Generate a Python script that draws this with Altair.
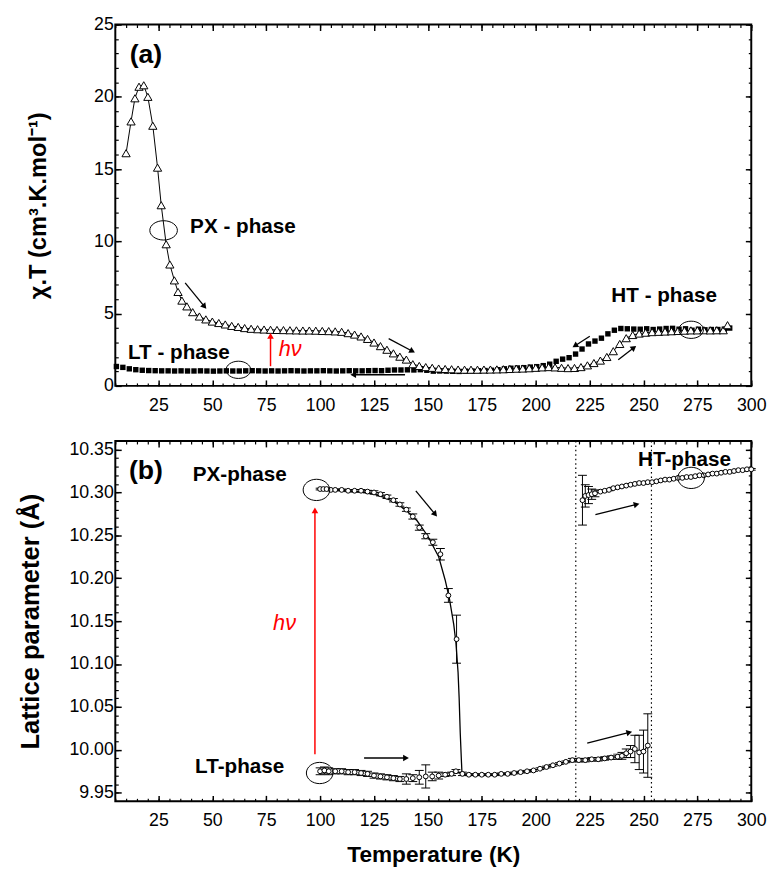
import math
import altair as alt
import pandas as pd

FONT = "Liberation Sans"
W, HA, HB = 646, 367, 366
X_DOM = [5, 300]
YA_DOM = [0, 25]
YB_DOM = [9.94, 10.36]

# ---------------- panel (a) data ----------------
tri_T = [10, 12.3, 14.1, 16, 18.2, 20.1, 22.4, 24.6, 26.3, 28.6, 30.3, 32.4, 34.1, 35.9, 38.2, 40.9,
         44, 47, 50, 53, 56, 59, 62, 65, 68, 71,
         74, 77, 80, 83, 86, 89, 92, 95, 98, 101,
         104, 107, 110, 113, 116, 119, 122, 125, 128, 131,
         134, 137, 140, 143, 146, 149, 152, 155, 158, 161,
         164, 167, 170, 173, 176, 179, 182, 185, 188, 191,
         194, 197, 200, 203, 206, 209, 212, 215, 218, 221,
         224, 227, 230, 233, 236, 239, 242, 245, 248, 251,
         254, 257, 260, 263, 266, 269, 272, 275, 278, 281,
         284, 287, 289]
tri_v = [16.1, 18.3, 19.9, 20.7, 20.8, 20.0, 18.0, 15.1, 12.5, 9.8, 8.4, 7.3, 6.5, 5.9, 5.5, 5.1,
         4.8, 4.6, 4.45, 4.35, 4.25, 4.15, 4.08, 4.0, 3.95, 3.92,
         3.9, 3.88, 3.87, 3.86, 3.85, 3.84, 3.83, 3.83, 3.82, 3.8,
         3.79, 3.77, 3.74, 3.65, 3.55, 3.42, 3.25, 3.0, 2.75, 2.5,
         2.25, 2.02, 1.82, 1.5, 1.38, 1.3, 1.25, 1.2, 1.17, 1.15,
         1.13, 1.12, 1.12, 1.12, 1.13, 1.13, 1.14, 1.15, 1.17, 1.19,
         1.2, 1.22, 1.25, 1.28, 1.3, 1.28, 1.25, 1.23, 1.24, 1.3,
         1.42, 1.58, 1.75, 2.0, 2.4, 2.9, 3.3, 3.52, 3.62, 3.68,
         3.72, 3.74, 3.76, 3.78, 3.8, 3.82, 3.84, 3.84, 3.85, 3.84,
         3.85, 3.85, 4.2]

sq_T = [5.5, 8.5, 11.5, 14.5, 17.5, 20.5, 23.5, 26.5,
        29.5, 32.5, 35.5, 38.5, 41.5, 44.5, 47.5, 50.5, 53.5, 56.5,
        59.5, 62.5, 65.5, 68.5, 71.5, 74.5, 77.5, 80.5, 83.5, 86.5,
        89.5, 92.5, 95.5, 98.5, 101.5, 104.5, 107.5, 110.5, 113.5, 116.5,
        119.5, 122.5, 125.5, 128.5,
        131.5, 134.5, 137.5, 140.5, 143.5, 146.5, 149.5, 152.5, 155.5, 158.5,
        161.5, 164.5, 167.5, 170.5, 173.5, 176.5, 179.5, 182.5, 185.5, 188.5,
        191.5, 194.5, 197.5, 200.5, 203.5, 206.5, 209.5, 212.5, 215.5, 218.5,
        221.5, 224.5, 227.5, 230.5, 233.5, 236.5, 239.5, 242.5, 245.5, 248.5,
        251.5, 254.5, 257.5, 260.5, 263.5, 266.5, 269.5, 272.5, 275.5, 278.5,
        281.5, 284.5, 287.5, 290]
sq_v = [1.34, 1.28, 1.18, 1.12, 1.08, 1.06, 1.05, 1.04,
        1.04, 1.03, 1.04, 1.03, 1.03, 1.04, 1.03, 1.02, 1.03, 1.04,
        1.03, 1.03, 1.04, 1.05, 1.04, 1.03, 1.04, 1.03, 1.04, 1.05,
        1.04, 1.03, 1.04, 1.04, 1.05, 1.04, 1.03, 1.04, 1.05, 1.04,
        1.04, 1.05, 1.06, 1.05,
        1.08, 1.1, 1.1, 1.11, 1.1, 1.12, 1.08, 1.02, 1.03, 1.02,
        1.01, 1.0, 1.02, 1.03, 1.05, 1.06, 1.08, 1.12, 1.18, 1.22,
        1.24, 1.26, 1.3, 1.33, 1.4, 1.5, 1.7, 1.85, 1.95, 2.2,
        2.55, 2.9, 3.1, 3.3, 3.6, 3.85, 3.97, 3.95, 3.93, 3.92,
        3.95, 3.9, 3.93, 3.97, 3.98, 3.92, 3.95, 3.85, 3.92, 3.88,
        3.9, 3.9, 3.92, 4.0]

# annotations (a)
a_txt = ["(a)", "PX - phase", "LT - phase", "HT - phase"]
a_txt_T = [19.2, 39.7, 10.9, 235.1]
a_txt_v = [22.9, 10.97, 2.25, 6.2]
a_txt_size = [27, 21, 21, 21]
a_txt_align = ["center", "left", "left", "left"]
a_hv_T, a_hv_v = [80.8], [2.52]
a_ell_T = [27.4, 62.1, 272.1]
a_ell_v = [10.76, 1.11, 3.88]
a_ell_w = [28, 25, 25]
a_arr_T1 = [37.4, 131.8, 225.1, 238.3, 139.4]
a_arr_v1 = [7.13, 3.27, 3.43, 1.8, 0.77]
a_arr_T2 = [46.1, 142.4, 218.6, 245.2, 115.8]
a_arr_v2 = [5.54, 2.43, 2.81, 2.6, 0.77]
a_red_T1, a_red_v1, a_red_T2, a_red_v2 = [77.0], [1.36], [77.0], [3.4]

# ---------------- panel (b) data ----------------
px_T = [100, 101.5, 103, 105, 107, 110, 113, 116, 119, 122, 125, 128, 131, 134, 137, 140,
        143, 146, 149, 152.3, 155.8, 159.5, 163.3]
px_v = [10.304, 10.304, 10.304, 10.303, 10.303, 10.303, 10.302, 10.302, 10.302, 10.301,
        10.300, 10.298, 10.295, 10.291, 10.286, 10.280, 10.272, 10.259, 10.249, 10.242,
        10.228, 10.180, 10.129]
px_e = [0.001, 0.001, 0.001, 0.001, 0.001, 0.001, 0.001, 0.0015, 0.0015, 0.0015, 0.002,
        0.002, 0.002, 0.002, 0.002, 0.002, 0.003, 0.003, 0.003, 0.0035, 0.0067, 0.008, 0.028]

fit_T = [100, 110, 120, 125, 130, 135, 140, 145, 150, 155, 158, 160, 162, 163, 164,
         164.5, 165, 165.5, 165.8]
fit_v = [10.304, 10.303, 10.3005, 10.298, 10.294, 10.288, 10.279, 10.267, 10.249, 10.225,
         10.198, 10.176, 10.146, 10.125, 10.09, 10.06, 10.02, 9.99, 9.973]

lt_T = [100, 102, 104, 107, 110, 113, 116, 119, 122, 125, 128, 131, 134, 137, 140, 143,
        146, 149, 152, 155, 158, 161, 163, 166, 169, 172, 175, 178, 181, 184, 187, 190,
        193, 196, 199, 202, 205, 208, 211, 214, 217, 220, 223, 226, 229, 232, 235, 238,
        240, 242, 244, 246, 248, 250, 252]
lt_v = [9.975, 9.976, 9.975, 9.975, 9.975, 9.974, 9.974, 9.973, 9.972, 9.970, 9.969, 9.968,
        9.967, 9.966, 9.966, 9.967, 9.968, 9.969, 9.969, 9.970, 9.971, 9.972, 9.975, 9.972,
        9.971, 9.971, 9.971, 9.971, 9.971, 9.972, 9.972, 9.973, 9.974, 9.975, 9.976, 9.978,
        9.980, 9.982, 9.984, 9.986, 9.988, 9.988, 9.988, 9.989, 9.989, 9.990, 9.991, 9.992,
        9.993, 9.996, 9.998, 10.001, 9.997, 9.998, 10.005]
lt_e = [0.004, 0.004, 0.004, 0.003, 0.003, 0.003, 0.003, 0.003, 0.003, 0.003, 0.003, 0.003,
        0.003, 0.003, 0.006, 0.004, 0.008, 0.0135, 0.005, 0.004, 0.002, 0.002, 0.002, 0.002,
        0.001, 0.001, 0.001, 0.001, 0.001, 0.001, 0.001, 0.001, 0.001, 0.001, 0.001, 0.001,
        0.001, 0.001, 0.001, 0.001, 0.002, 0.002, 0.002, 0.002, 0.002, 0.002, 0.002, 0.003,
        0.004, 0.005, 0.007, 0.016, 0.02, 0.025, 0.037]

ht_T = [221.7, 223, 224.5, 226, 227.5, 230, 232, 234, 236, 238, 240, 242, 244, 246, 248,
        250, 252, 254, 256, 258, 260, 262, 264, 266, 268, 270, 272, 274, 276, 278, 280,
        282, 284, 286, 288, 290, 292, 294, 296, 298, 300]
ht_v = [10.291, 10.296, 10.297, 10.298, 10.299, 10.301, 10.302, 10.303, 10.305, 10.306,
        10.307, 10.308, 10.309, 10.310, 10.311, 10.311, 10.312, 10.312, 10.313, 10.314,
        10.315, 10.315, 10.316, 10.317, 10.317, 10.318, 10.318, 10.319, 10.320, 10.320,
        10.321, 10.322, 10.322, 10.323, 10.324, 10.324, 10.325, 10.326, 10.326, 10.327,
        10.327]
ht_e = [0.029, 0.013, 0.01, 0.006, 0.004] + [0.001] * 36

b_vlines = [218.6, 253.7]
b_txt = ["(b)", "PX-phase", "LT-phase", "HT-phase"]
b_txt_T = [19.2, 40.9, 42.0, 247.5]
b_txt_v = [10.325, 10.32, 9.98, 10.338]
b_txt_size = [27, 21, 21, 21]
b_txt_align = ["center", "left", "left", "left"]
b_hv_T, b_hv_v = [83.5], [10.148]
b_ell_T = [98.3, 99.8, 272.1]
b_ell_v = [10.303, 9.973, 10.317]
b_ell_w = [27, 27, 27]
b_arr_T1 = [144.4, 120.4, 223.9, 227.7]
b_arr_v1 = [10.3018, 9.9905, 10.0077, 10.2743]
b_arr_T2 = [153.1, 139.4, 243.0, 246.4]
b_arr_v2 = [10.2754, 9.9905, 10.020, 10.2858]
b_red_T1, b_red_v1, b_red_T2, b_red_v2 = [97.6], [9.995], [97.6], [10.278]

x_major = list(range(25, 301, 25))
x_minor = list(range(5, 301, 5))
ya_major = [0, 5, 10, 15, 20, 25]
ya_minor = list(range(0, 26))
yb_major = [9.95, 10.0, 10.05, 10.1, 10.15, 10.2, 10.25, 10.3, 10.35]
yb_minor = [round(9.95 + 0.01 * i, 2) for i in range(41)]

xs = alt.Scale(domain=X_DOM, nice=False, zero=False)
ELL_A = "M-1,0A1,0.7 0 1,1 1,0A1,0.7 0 1,1 -1,0Z"
ELL_B = "M-1,0A1,0.8 0 1,1 1,0A1,0.8 0 1,1 -1,0Z"


def axis(orient, values, major, labels=False, fmt=None, title=None, tsize=22, tpad=10, lpad=3):
    kw = dict(orient=orient, values=values, domain=False, grid=False, labels=labels,
              tickSize=6 if major else 3, offset=-6 if major else -3,
              tickWidth=1.5 if major else 1.2, tickColor="black", tickOpacity=1)
    if labels:
        kw.update(labelFont=FONT, labelFontSize=18, labelColor="black", labelPadding=lpad,
                  labelFlush=False, labelOverlap=False)
        if fmt:
            kw["format"] = fmt
    if title:
        kw.update(title=title, titleFont=FONT, titleFontSize=tsize, titleFontWeight="bold",
                  titleColor="black", titlePadding=tpad)
    else:
        kw["title"] = None
    return alt.Axis(**kw)


def axis_layers(ys, ydom, ymaj, ymin, yfmt, ytitle, ytsize, ytpad, xtitle):
    df = pd.DataFrame({"T": [X_DOM[0]], "v": [ydom[0]]})
    specs = [
        (axis("bottom", x_major, True, labels=True, title=xtitle, tsize=23, tpad=14, lpad=11),
         axis("left", ymaj, True, labels=True, fmt=yfmt, title=ytitle, tsize=ytsize, tpad=ytpad, lpad=2)),
        (axis("bottom", x_minor, False), axis("left", ymin, False)),
        (axis("top", x_major, True), axis("right", ymaj, True)),
        (axis("top", x_minor, False), axis("right", ymin, False)),
    ]
    out = []
    for xa, ya in specs:
        out.append(alt.Chart(df).mark_point(opacity=0).encode(
            x=alt.X("T:Q", scale=xs, axis=xa), y=alt.Y("v:Q", scale=ys, axis=ya)))
    return out


def enc(ys, xf="T", yf="v"):
    return dict(x=alt.X(f"{xf}:Q", scale=xs, axis=None), y=alt.Y(f"{yf}:Q", scale=ys, axis=None))


def arrows(ys, ydom, H, T1, v1, T2, v2, color, sw=1.3, head=45):
    rows = []
    for a, b, c, d in zip(T1, v1, T2, v2):
        dx = (c - a) * W / (X_DOM[1] - X_DOM[0])
        dy = -(d - b) * H / (ydom[1] - ydom[0])
        ang = math.degrees(math.atan2(dx, -dy)) % 360
        rows.append({"T": a, "v": b, "T2": c, "v2": d, "ang": ang})
    df = pd.DataFrame(rows)
    shaft = alt.Chart(df).mark_rule(color=color, strokeWidth=sw).encode(
        x=alt.X("T:Q", scale=xs, axis=None), y=alt.Y("v:Q", scale=ys, axis=None),
        x2="T2:Q", y2="v2:Q")
    tip = alt.Chart(df).mark_point(shape="triangle", filled=True, color=color, size=head,
                                   opacity=1).encode(
        x=alt.X("T2:Q", scale=xs, axis=None), y=alt.Y("v2:Q", scale=ys, axis=None),
        angle=alt.Angle("ang:Q", scale=None))
    return [shaft, tip]


def texts(ys, labels, T, v, sizes, aligns):
    out = []
    for s, t, y, fs, al in zip(labels, T, v, sizes, aligns):
        df = pd.DataFrame({"T": [t], "v": [y], "s": [s]})
        out.append(alt.Chart(df).mark_text(font=FONT, fontSize=fs, fontWeight="bold",
                                           align=al, baseline="middle", color="black").encode(
            text="s:N", **enc(ys)))
    return out


VIEW = alt.ViewBackground(stroke="black", strokeWidth=2, fill="white")

# ---------------- panel (a) ----------------
ya = alt.Scale(domain=YA_DOM, nice=False, zero=False)
df_tri = pd.DataFrame({"T": tri_T, "v": tri_v})
df_sq = pd.DataFrame({"T": sq_T, "v": sq_v})
df_ell_a = pd.DataFrame({"T": a_ell_T, "v": a_ell_v, "s": [w * w for w in a_ell_w]})

layers_a = axis_layers(ya, YA_DOM, ya_major, ya_minor, None,
                       "χ.T (cm³.K.mol⁻¹)", 24, 44, None)
layers_a += [
    alt.Chart(df_sq).mark_square(size=30, color="black", opacity=1).encode(**enc(ya)),
    alt.Chart(df_tri).mark_line(color="black", strokeWidth=1).encode(**enc(ya)),
    alt.Chart(df_tri).mark_point(shape="triangle-up", size=70, filled=True, fill="white",
                                 stroke="black", strokeWidth=1, opacity=1).encode(**enc(ya)),
    alt.Chart(df_ell_a).mark_point(shape=ELL_A, filled=False, color="black", strokeWidth=1,
                                   opacity=1).encode(size=alt.Size("s:Q", scale=None), **enc(ya)),
]
layers_a += arrows(ya, YA_DOM, HA, a_arr_T1, a_arr_v1, a_arr_T2, a_arr_v2, "black")
layers_a += arrows(ya, YA_DOM, HA, a_red_T1, a_red_v1, a_red_T2, a_red_v2, "#ff0000", sw=1.5)
layers_a += texts(ya, a_txt, a_txt_T, a_txt_v, a_txt_size, a_txt_align)
layers_a.append(alt.Chart(pd.DataFrame({"T": a_hv_T, "v": a_hv_v, "s": ["hν"]})).mark_text(
    font=FONT, fontSize=22, fontStyle="italic", color="#ff0000", align="left",
    baseline="middle").encode(text="s:N", **enc(ya)))

panel_a = alt.layer(*layers_a).properties(width=W, height=HA, view=VIEW).resolve_axis(
    x="independent", y="independent")

# ---------------- panel (b) ----------------
yb = alt.Scale(domain=YB_DOM, nice=False, zero=False)


def err_df(T, v, e):
    return pd.DataFrame({"T": T, "v": v, "lo": [a - b for a, b in zip(v, e)],
                         "hi": [a + b for a, b in zip(v, e)]})


df_px = err_df(px_T, px_v, px_e)
df_lt = err_df(lt_T, lt_v, lt_e)
df_ht = err_df(ht_T, ht_v, ht_e)
df_fit = pd.DataFrame({"T": fit_T, "v": fit_v})
df_vl = pd.DataFrame({"T": b_vlines})
df_ell_b = pd.DataFrame({"T": b_ell_T, "v": b_ell_v, "s": [w * w for w in b_ell_w]})


def err_layers(df):
    return [
        alt.Chart(df).mark_rule(color="black", strokeWidth=1).encode(
            x=alt.X("T:Q", scale=xs, axis=None), y=alt.Y("lo:Q", scale=yb, axis=None), y2="hi:Q"),
        alt.Chart(df).mark_tick(orient="horizontal", size=9, thickness=1, color="black",
                                opacity=1).encode(**enc(yb, yf="lo")),
        alt.Chart(df).mark_tick(orient="horizontal", size=9, thickness=1, color="black",
                                opacity=1).encode(**enc(yb, yf="hi")),
    ]


def circles(df, size=24):
    return alt.Chart(df).mark_point(shape="circle", size=size, filled=True, fill="white",
                                    stroke="black", strokeWidth=1, opacity=1).encode(**enc(yb))


layers_b = axis_layers(yb, YB_DOM, yb_major, yb_minor, ".2f",
                       "Lattice parameter (Å)", 26, 26, "Temperature (K)")
layers_b += [
    alt.Chart(df_vl).mark_rule(color="black", strokeWidth=1.2, strokeDash=[1.5, 3]).encode(
        x=alt.X("T:Q", scale=xs, axis=None)),
]
layers_b += arrows(yb, YB_DOM, HB, b_red_T1, b_red_v1, b_red_T2, b_red_v2, "#ff0000", sw=1.5)
layers_b += [alt.Chart(df_fit).mark_line(color="black", strokeWidth=1.3).encode(**enc(yb))]
layers_b += [alt.Chart(df_lt[df_lt["T"] >= 163]).mark_line(color="black", strokeWidth=1.2).encode(**enc(yb)),
             alt.Chart(df_ht).mark_line(color="black", strokeWidth=1.2).encode(**enc(yb))]
layers_b += err_layers(df_px) + err_layers(df_lt) + err_layers(df_ht)
layers_b += [circles(df_px), circles(df_lt), circles(df_ht)]
layers_b += [alt.Chart(df_ell_b).mark_point(shape=ELL_B, filled=False, color="black",
                                            strokeWidth=1, opacity=1).encode(
    size=alt.Size("s:Q", scale=None), **enc(yb))]
layers_b += arrows(yb, YB_DOM, HB, b_arr_T1, b_arr_v1, b_arr_T2, b_arr_v2, "black")
layers_b += texts(yb, b_txt, b_txt_T, b_txt_v, b_txt_size, b_txt_align)
layers_b.append(alt.Chart(pd.DataFrame({"T": b_hv_T, "v": b_hv_v, "s": ["hν"]})).mark_text(
    font=FONT, fontSize=22, fontStyle="italic", color="#ff0000", align="center",
    baseline="middle").encode(text="s:N", **enc(yb)))

panel_b = alt.layer(*layers_b).properties(width=W, height=HB, view=VIEW).resolve_axis(
    x="independent", y="independent")

chart = alt.vconcat(panel_a, panel_b, spacing=24).properties(
    padding={"left": 8, "top": 0, "right": 0, "bottom": 0}, background="white"
).configure_view(stroke="black", strokeWidth=2)

chart.save("out.html", embed_options={"renderer": "svg", "actions": False})
